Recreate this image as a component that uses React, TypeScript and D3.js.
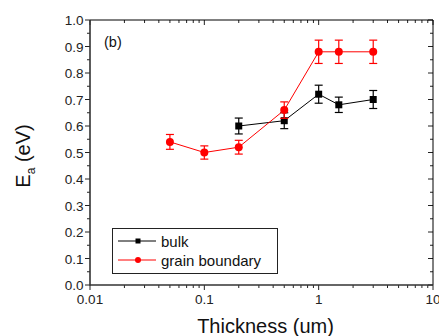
import { useEffect, useRef } from "react"
import * as d3 from "d3"

// thickness (um)
const bulkX = [0.2, 0.5, 1, 1.5, 3]
const bulkY = [0.6, 0.62, 0.72, 0.68, 0.7]
const bulkErr = [0.03, 0.03, 0.034, 0.029, 0.034]

const gbX = [0.05, 0.1, 0.2, 0.5, 1, 1.5, 3]
const gbY = [0.54, 0.5, 0.52, 0.66, 0.88, 0.88, 0.88]
const gbErr = [0.028, 0.025, 0.026, 0.031, 0.044, 0.044, 0.044]

const xTicks = [0.01, 0.1, 1, 10]
const xTickLabels = ["0.01", "0.1", "1", "10"]
const yTicks = [0, 0.1, 0.2, 0.3, 0.4, 0.5, 0.6, 0.7, 0.8, 0.9, 1.0]

const App = () => {
  const svgRef = useRef<SVGSVGElement>(null)

  useEffect(() => {
    const svg = d3.select(svgRef.current)
    svg.selectAll("*").remove()

    const width = 439
    const height = 336
    const m = { left: 90, right: 433, top: 20, bottom: 285 }
    const font = "Arial, 'Liberation Sans', sans-serif"

    svg.attr("width", width).attr("height", height)

    const x = d3.scaleLog().domain([0.01, 10]).range([m.left, m.right])
    const y = d3.scaleLinear().domain([0, 1]).range([m.bottom, m.top])

    const g = svg.append("g")

    // minor ticks
    const minorX: number[] = []
    for (let d = 0.01; d < 10; d *= 10) {
      for (let k = 2; k <= 9; k++) minorX.push(d * k)
    }
    const minorY = d3.range(0.05, 1, 0.1)

    // bottom (outward) + top (inward)
    xTicks.forEach((v) => {
      g.append("line").attr("x1", x(v)).attr("x2", x(v)).attr("y1", m.bottom).attr("y2", m.bottom + 5).attr("stroke", "#222")
      g.append("line").attr("x1", x(v)).attr("x2", x(v)).attr("y1", m.top).attr("y2", m.top + 5).attr("stroke", "#222")
    })
    minorX.forEach((v) => {
      g.append("line").attr("x1", x(v)).attr("x2", x(v)).attr("y1", m.bottom).attr("y2", m.bottom + 3).attr("stroke", "#222")
      g.append("line").attr("x1", x(v)).attr("x2", x(v)).attr("y1", m.top).attr("y2", m.top + 3).attr("stroke", "#222")
    })
    yTicks.forEach((v) => {
      g.append("line").attr("x1", m.left - 5).attr("x2", m.left).attr("y1", y(v)).attr("y2", y(v)).attr("stroke", "#222")
      g.append("line").attr("x1", m.right - 5).attr("x2", m.right).attr("y1", y(v)).attr("y2", y(v)).attr("stroke", "#222")
    })
    minorY.forEach((v) => {
      g.append("line").attr("x1", m.left - 3).attr("x2", m.left).attr("y1", y(v)).attr("y2", y(v)).attr("stroke", "#222")
      g.append("line").attr("x1", m.right - 3).attr("x2", m.right).attr("y1", y(v)).attr("y2", y(v)).attr("stroke", "#222")
    })

    // frame
    g.append("line").attr("x1", m.left).attr("x2", m.right).attr("y1", m.top).attr("y2", m.top).attr("stroke", "#000")
    g.append("line").attr("x1", m.right).attr("x2", m.right).attr("y1", m.top).attr("y2", m.bottom).attr("stroke", "#000")
    g.append("line").attr("x1", m.left).attr("x2", m.left).attr("y1", m.top).attr("y2", m.bottom + 0.5).attr("stroke", "#333").attr("stroke-width", 1.6)
    g.append("line").attr("x1", m.left).attr("x2", m.right).attr("y1", m.bottom).attr("y2", m.bottom).attr("stroke", "#333").attr("stroke-width", 1.6)

    // tick labels
    xTicks.forEach((v, i) => {
      g.append("text").attr("x", x(v)).attr("y", m.bottom + 19).attr("text-anchor", "middle")
        .style("font-family", font).style("font-size", "13.5px").attr("fill", "#222").text(xTickLabels[i])
    })
    yTicks.forEach((v) => {
      g.append("text").attr("x", m.left - 6.5).attr("y", y(v) + 5).attr("text-anchor", "end")
        .style("font-family", font).style("font-size", "13.5px").attr("fill", "#222").text(v.toFixed(1))
    })

    // axis titles
    g.append("text").attr("x", (m.left + m.right) / 2 + 4).attr("y", 333).attr("text-anchor", "middle")
      .style("font-family", font).style("font-size", "20px").attr("fill", "#111").text("Thickness (um)")
    const yt = g.append("text").attr("transform", `translate(30,156) rotate(-90)`)
      .attr("text-anchor", "middle").style("font-family", font).style("font-size", "20px").attr("fill", "#111")
    yt.append("tspan").text("E")
    yt.append("tspan").attr("dy", 5).style("font-size", "12px").text("a")
    yt.append("tspan").attr("dy", -5).text(" (eV)")

    g.append("text").attr("x", 104).attr("y", 47).style("font-family", font).style("font-size", "14.5px").attr("fill", "#111").text("(b)")

    const drawSeries = (xs: number[], ys: number[], errs: number[], color: string, shape: "square" | "circle") => {
      const pts = xs.map((v, i) => [v, ys[i], errs[i]])
      const line = d3.line<number[]>().x((d) => x(d[0])).y((d) => y(d[1]))
      g.append("path").datum(pts).attr("d", line).attr("fill", "none").attr("stroke", color).attr("stroke-width", 1)
      pts.forEach((d) => {
        const cx = x(d[0])
        g.append("line").attr("x1", cx).attr("x2", cx).attr("y1", y(d[1] - d[2])).attr("y2", y(d[1] + d[2])).attr("stroke", color).attr("stroke-width", 1.2)
        ;[d[1] - d[2], d[1] + d[2]].forEach((e) => {
          g.append("line").attr("x1", cx - 4).attr("x2", cx + 4).attr("y1", y(e)).attr("y2", y(e)).attr("stroke", color).attr("stroke-width", 1.2)
        })
        if (shape === "square") {
          g.append("rect").attr("x", cx - 3.5).attr("y", y(d[1]) - 3.5).attr("width", 7).attr("height", 7).attr("fill", color)
        } else {
          g.append("circle").attr("cx", cx).attr("cy", y(d[1])).attr("r", 4).attr("fill", color)
        }
      })
    }

    drawSeries(bulkX, bulkY, bulkErr, "#000", "square")
    drawSeries(gbX, gbY, gbErr, "#ff0000", "circle")

    // legend
    const lg = g.append("g")
    lg.append("rect").attr("x", 112.5).attr("y", 228.5).attr("width", 165).attr("height", 45).attr("fill", "#fff").attr("stroke", "#222")
    const entries = [
      { label: "bulk", color: "#000", shape: "square", yy: 241 },
      { label: "grain boundary", color: "#ff0000", shape: "circle", yy: 260 },
    ]
    entries.forEach((e) => {
      lg.append("line").attr("x1", 118).attr("x2", 156).attr("y1", e.yy).attr("y2", e.yy).attr("stroke", e.color)
      if (e.shape === "square") lg.append("rect").attr("x", 135.5).attr("y", e.yy - 2.5).attr("width", 5).attr("height", 5).attr("fill", e.color)
      else lg.append("circle").attr("cx", 138).attr("cy", e.yy).attr("r", 3).attr("fill", e.color)
      lg.append("text").attr("x", 161).attr("y", e.yy + 5.5).style("font-family", font).style("font-size", "15px").attr("fill", "#111").text(e.label)
    })
  }, [])

  return <svg ref={svgRef} style={{ position: "absolute", left: 0, top: 0, background: "#fff" }}></svg>
}

export default App
